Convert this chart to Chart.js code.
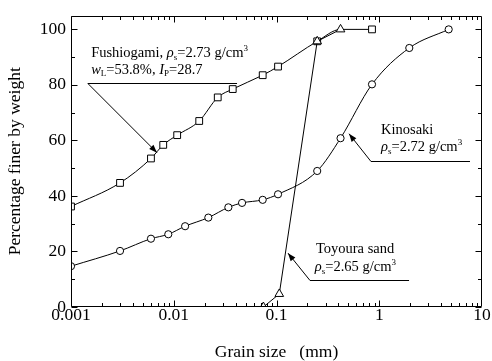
<!DOCTYPE html>
<html>
<head>
<meta charset="utf-8">
<script src="https://cdn.jsdelivr.net/npm/chart.js@4.4.0/dist/chart.umd.min.js"></script>
<style>
  html, body { margin: 0; padding: 0; background: #fff; }
</style>
</head>
<body>
<canvas id="chart" width="492" height="361"></canvas>
<script>
// grain size (mm) and percentage finer
const fushiSize  = [0.001, 0.003, 0.006, 0.0079, 0.0108, 0.0177, 0.0268, 0.0375, 0.0734, 0.1035, 0.249, 0.42, 0.85];
const fushiFiner = [36.2, 44.7, 53.5, 58.4, 61.9, 67.0, 75.5, 78.5, 83.5, 86.6, 95.7, 100, 100];

const kinoSize  = [0.001, 0.003, 0.006, 0.00885, 0.0129, 0.0217, 0.034, 0.0462, 0.0734, 0.1035, 0.249, 0.42, 0.85, 1.96, 4.74];
const kinoFiner = [14.7, 20.2, 24.6, 26.2, 29.1, 32.2, 35.9, 37.5, 38.6, 40.6, 49.0, 60.8, 80.2, 93.3, 100];

const toyoSize  = [0.0745, 0.1064, 0.249, 0.42];
const toyoFiner = [0, 4.7, 95.7, 100];

const xTicks = [0.001, 0.01, 0.1, 1, 10];
const yTicks = [0, 20, 40, 60, 80, 100];

const SERIF = '"Liberation Serif", "Times New Roman", serif';

const toPoints = (xs, ys) => xs.map((x, i) => ({ x: x, y: ys[i] }));

// frame with inward ticks on all four sides
const framePlugin = {
    id: 'frame',
    afterDraw(chart) {
        const { ctx, chartArea: a, scales } = chart;
        const sx = scales.x, sy = scales.y;
        const L = Math.round(a.left) + 0.5, R = Math.round(a.right) - 0.5;
        const T = Math.round(a.top) + 0.5, B = Math.round(a.bottom) - 0.5;
        ctx.save();
        ctx.strokeStyle = '#000';
        ctx.lineWidth = 1;
        ctx.beginPath();
        ctx.rect(L, T, R - L, B - T);
        // x ticks
        for (let e = -3; e <= 0; e++) {
            for (let m = 1; m <= 9; m++) {
                const px = Math.round(sx.getPixelForValue(m * Math.pow(10, e))) + 0.5;
                const len = m === 1 ? 6 : 3.5;
                ctx.moveTo(px, B); ctx.lineTo(px, B - len);
                ctx.moveTo(px, T); ctx.lineTo(px, T + len);
            }
        }
        // y ticks
        for (let v = 0; v <= 100; v += 10) {
            const py = Math.round(sy.getPixelForValue(v)) + 0.5;
            const len = v % 20 === 0 ? 6 : 3.5;
            ctx.moveTo(L, py); ctx.lineTo(L + len, py);
            ctx.moveTo(R, py); ctx.lineTo(R - len, py);
        }
        ctx.stroke();
        ctx.restore();
    }
};

// text with italic letters, subscripts and superscripts
function richText(ctx, x, y, parts, size) {
    let cx = x;
    parts.forEach(p => {
        const small = p.sub || p.sup;
        const sz = small ? size * 0.62 : size;
        ctx.font = (p.it ? 'italic ' : '') + sz + 'px ' + SERIF;
        const dy = p.sub ? size * 0.28 : (p.sup ? -size * 0.33 : 0);
        ctx.fillText(p.t, cx, y + dy);
        cx += ctx.measureText(p.t).width;
    });
}

// labels with leader line and arrow, all placed in data units
const labels = [
    {
        lines: [
            { x: 0.00157, y: 91.4, parts: [{ t: 'Fushiogami, ' }, { t: 'ρ', it: true }, { t: 's', sub: true }, { t: '=2.73 g/cm' }, { t: '3', sup: true }] },
            { x: 0.00157, y: 85.4, parts: [{ t: 'w', it: true }, { t: 'L', sub: true }, { t: '=53.8%, ' }, { t: 'I', it: true }, { t: 'P', sub: true }, { t: '=28.7' }] }
        ],
        rule: [0.00146, 0.0413, 80.6],
        tip: [0.00687, 55.6]
    },
    {
        lines: [
            { x: 1.04, y: 63.8, parts: [{ t: 'Kinosaki' }] },
            { x: 1.04, y: 57.4, parts: [{ t: 'ρ', it: true }, { t: 's', sub: true }, { t: '=2.72 g/cm' }, { t: '3', sup: true }] }
        ],
        rule: [0.831, 7.64, 52.7],
        tip: [0.508, 62.4]
    },
    {
        lines: [
            { x: 0.242, y: 20.8, parts: [{ t: 'Toyoura sand' }] },
            { x: 0.236, y: 14.3, parts: [{ t: 'ρ', it: true }, { t: 's', sub: true }, { t: '=2.65 g/cm' }, { t: '3', sup: true }] }
        ],
        rule: [0.212, 1.95, 9.7],
        tip: [0.1294, 19.4]
    }
];

const labelPlugin = {
    id: 'labels',
    afterDraw(chart) {
        const { ctx, scales } = chart;
        const px = v => scales.x.getPixelForValue(v);
        const py = v => scales.y.getPixelForValue(v);
        ctx.save();
        ctx.fillStyle = '#000';
        ctx.strokeStyle = '#000';
        ctx.lineWidth = 1;
        ctx.textBaseline = 'middle';
        labels.forEach(lb => {
            lb.lines.forEach(ln => richText(ctx, px(ln.x), py(ln.y), ln.parts, 14.5));
            const y0 = Math.round(py(lb.rule[2])) + 0.5;
            const x0 = px(lb.rule[0]), x1 = px(lb.rule[1]);
            const tx = px(lb.tip[0]), ty = py(lb.tip[1]);
            ctx.beginPath();
            ctx.moveTo(x1, y0);
            ctx.lineTo(x0, y0);
            ctx.lineTo(tx, ty);
            ctx.stroke();
            // arrow head
            const ang = Math.atan2(ty - y0, tx - x0);
            const len = 8, half = 3;
            const bx = tx - len * Math.cos(ang), by = ty - len * Math.sin(ang);
            ctx.beginPath();
            ctx.moveTo(tx, ty);
            ctx.lineTo(bx + half * Math.sin(ang), by - half * Math.cos(ang));
            ctx.lineTo(bx - half * Math.sin(ang), by + half * Math.cos(ang));
            ctx.closePath();
            ctx.fill();
        });
        ctx.restore();
    }
};

const common = {
    showLine: true,
    borderColor: '#000',
    borderWidth: 1,
    pointBorderColor: '#000',
    pointBackgroundColor: '#fff',
    pointBorderWidth: 1,
    clip: 0
};

new Chart(document.getElementById('chart'), {
    type: 'scatter',
    data: {
        datasets: [
            Object.assign({}, common, {
                label: 'Toyoura sand',
                data: toPoints(toyoSize, toyoFiner),
                pointStyle: 'triangle',
                pointRadius: 5,
                tension: 0
            }),
            Object.assign({}, common, {
                label: 'Fushiogami',
                data: toPoints(fushiSize, fushiFiner),
                pointStyle: 'rect',
                // the point at 0.42 mm sits under the Toyoura triangle
                pointRadius: fushiSize.map(s => s === 0.42 ? 0 : 4.8),
                cubicInterpolationMode: 'monotone'
            }),
            Object.assign({}, common, {
                label: 'Kinosaki',
                data: toPoints(kinoSize, kinoFiner),
                pointStyle: 'circle',
                pointRadius: 3.6,
                cubicInterpolationMode: 'monotone'
            })
        ]
    },
    options: {
        responsive: false,
        animation: false,
        events: [],
        layout: { padding: { top: 14, right: 10, left: 0, bottom: 0 } },
        plugins: {
            legend: { display: false },
            tooltip: { enabled: false }
        },
        scales: {
            x: {
                type: 'logarithmic',
                min: 0.001,
                max: 10,
                grid: { display: false, drawTicks: false },
                border: { display: false },
                afterFit(scale) { scale.height = 54; },
                ticks: {
                    autoSkip: false,
                    maxRotation: 0,
                    padding: -2,
                    color: '#000',
                    font: { family: SERIF, size: 17.5 },
                    callback(v) {
                        const lg = Math.log10(v);
                        if (Math.abs(lg - Math.round(lg)) > 1e-9) return '';
                        const t = xTicks.find(k => Math.abs(Math.log10(k) - lg) < 1e-9);
                        if (t === undefined) return '';
                        return t >= 1 ? String(t) : t.toFixed(-Math.round(lg));
                    }
                },
                title: {
                    display: true,
                    text: 'Grain size   (mm)',
                    color: '#000',
                    font: { family: SERIF, size: 17.5, lineHeight: 1 },
                    padding: { top: 0, bottom: 0 }
                }
            },
            y: {
                min: 0,
                max: 105,
                grid: { display: false, drawTicks: false },
                border: { display: false },
                afterFit(scale) { scale.width = 71; },
                afterBuildTicks(scale) { scale.ticks = yTicks.map(v => ({ value: v })); },
                ticks: {
                    padding: 5,
                    color: '#000',
                    font: { family: SERIF, size: 17.5 }
                },
                title: {
                    display: true,
                    text: 'Percentage finer by weight',
                    color: '#000',
                    font: { family: SERIF, size: 17.5, lineHeight: 1 },
                    padding: { top: 7, bottom: 0 }
                }
            }
        }
    },
    plugins: [framePlugin, labelPlugin]
});
</script>
</body>
</html>
